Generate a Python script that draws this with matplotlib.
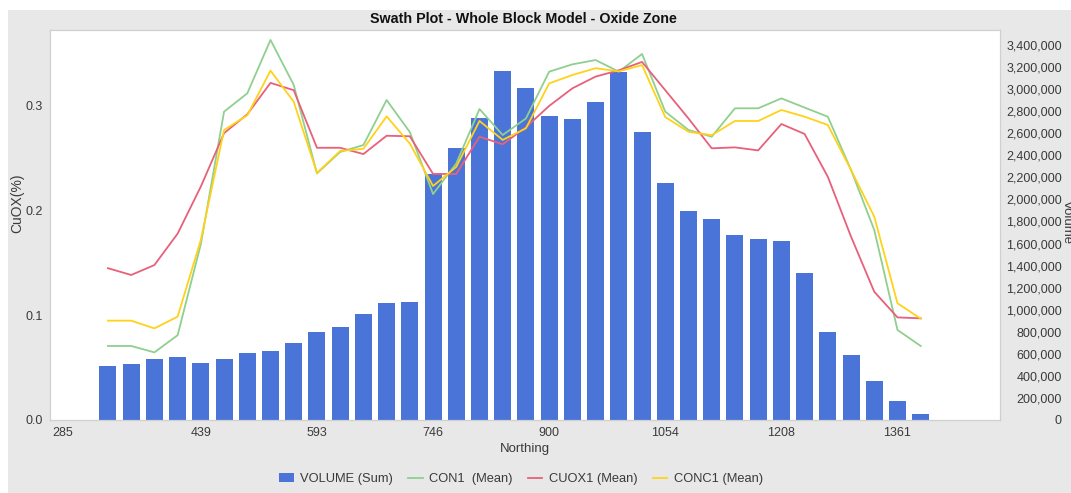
import matplotlib
matplotlib.use("Agg")
import matplotlib.pyplot as plt
import matplotlib.transforms as mtransforms
from matplotlib.patches import Rectangle
from matplotlib.ticker import FuncFormatter

# ---------------- data ----------------
northing = [315.75, 346.5, 377.25, 408.0, 438.75, 469.5, 500.25, 531.0, 561.75,
            592.5, 623.25, 654.0, 684.75, 715.5, 746.25, 777.0, 807.75, 838.5,
            869.25, 900.0, 930.75, 961.5, 992.25, 1023.0, 1053.75, 1084.5,
            1115.25, 1146.0, 1176.75, 1207.5, 1238.25, 1269.0, 1299.75,
            1330.5, 1361.25, 1392.0]

volume_sum = [490000, 505000, 550000, 574000, 517000, 553000, 607000, 626000,
              695000, 801000, 846000, 958000, 1064000, 1073000, 2230000,
              2463000, 2735000, 3164000, 3007000, 2759000, 2726000, 2880000,
              3152000, 2608000, 2146000, 1898000, 1820000, 1680000, 1644000,
              1626000, 1336000, 801000, 589000, 354000, 175000, 54000]

con1_mean = [0.0707, 0.0707, 0.0646, 0.081, 0.168, 0.2945, 0.312, 0.363, 0.320,
             0.2355, 0.256, 0.2626, 0.3056, 0.275, 0.2158, 0.245, 0.297, 0.2722,
             0.288, 0.3327, 0.3397, 0.3438, 0.3327, 0.3496, 0.2945, 0.277,
             0.2706, 0.2977, 0.2977, 0.3072, 0.2984, 0.2897, 0.2388, 0.1815,
             0.086, 0.0707]

cuox1_mean = [0.145, 0.1385, 0.148, 0.178, 0.223, 0.274, 0.292, 0.322, 0.315,
              0.260, 0.260, 0.254, 0.2715, 0.271, 0.235, 0.235, 0.2706, 0.2633,
              0.2796, 0.300, 0.3168, 0.328, 0.334, 0.342, 0.315, 0.288, 0.2595,
              0.2604, 0.2575, 0.2827, 0.2732, 0.2323, 0.1751, 0.1225, 0.098,
              0.0971]

conc1_mean = [0.0949, 0.0949, 0.0875, 0.0987, 0.172, 0.277, 0.291, 0.3337, 0.304,
              0.236, 0.257, 0.259, 0.290, 0.264, 0.2235, 0.2418, 0.2856, 0.2675,
              0.2786, 0.3215, 0.3295, 0.336, 0.333, 0.339, 0.2893, 0.2753, 0.272,
              0.2856, 0.2856, 0.2961, 0.2897, 0.2818, 0.2388, 0.1942, 0.1115,
              0.0968]

x_tick_values = [285, 438.75, 592.5, 746.25, 900, 1053.75, 1207.5, 1361.25]
x_tick_labels = ["285", "439", "593", "746", "900", "1054", "1208", "1361"]
left_ticks = [0.0, 0.1, 0.2, 0.3]
right_ticks = [0, 200000, 400000, 600000, 800000, 1000000, 1200000, 1400000,
               1600000, 1800000, 2000000, 2200000, 2400000, 2600000, 2800000,
               3000000, 3200000, 3400000]

title = "Swath Plot - Whole Block Model - Oxide Zone"
legend_labels = ["VOLUME (Sum)", "CON1  (Mean)", "CUOX1 (Mean)", "CONC1 (Mean)"]

# ---------------- style ----------------
plt.rcParams['font.family'] = ['Liberation Sans', 'DejaVu Sans']
BG = "#e8e8e8"
BLUE = "#4a74d8"
GREEN = "#8fcf8f"
RED = "#e8607a"
YELLOW = "#ffd21a"
TXT = "#3a3a3a"

fig = plt.figure(figsize=(10.71, 4.93), dpi=100)
fig.patch.set_facecolor("white")
fig.patches.append(Rectangle((8 / 1071, 0), 1, 1 - 10 / 493, transform=fig.transFigure,
                             facecolor=BG, edgecolor="none", zorder=-10))

ax2 = fig.add_axes([50 / 1071, 1 - 420 / 493, 950 / 1071, 390 / 493])
ax = ax2.twinx()
ax.yaxis.tick_left()
ax.yaxis.set_label_position("left")
ax2.yaxis.tick_right()
ax2.yaxis.set_label_position("right")

ax2.set_facecolor("white")
ax.set_zorder(ax2.get_zorder() + 1)
ax.patch.set_visible(False)

bars = ax2.bar(northing, volume_sum, width=22.5, color=BLUE, linewidth=0,
               label=legend_labels[0])
l1, = ax.plot(northing, con1_mean, color=GREEN, lw=1.3, label=legend_labels[1])
l2, = ax.plot(northing, cuox1_mean, color=RED, lw=1.3, label=legend_labels[2])
l3, = ax.plot(northing, conc1_mean, color=YELLOW, lw=1.3, label=legend_labels[3])

ax.set_xlim(239, 1497)
ax2.set_xlim(239, 1497)
ax.set_ylim(0, 0.3725)
ax2.set_ylim(0, 3536000)

ax.set_yticks(left_ticks)
ax.yaxis.set_major_formatter(FuncFormatter(lambda v, p: f"{v:.1f}"))
ax2.set_yticks(right_ticks)
ax2.yaxis.set_major_formatter(FuncFormatter(lambda v, p: f"{int(v):,}"))
ax2.set_xticks(x_tick_values)
ax2.set_xticklabels(x_tick_labels)
ax.tick_params(axis='x', bottom=False, labelbottom=False)

for a in (ax, ax2):
    for s in a.spines.values():
        s.set_color("#d0d0d0")
        s.set_linewidth(0.8)

ax.tick_params(axis='y', length=0, pad=5, labelsize=9, labelcolor=TXT)
ax2.tick_params(axis='y', length=0, pad=44.5, labelsize=9, labelcolor=TXT)
for lbl in ax2.get_yticklabels():
    lbl.set_horizontalalignment('right')
ax2.tick_params(axis='x', length=0, pad=5, labelsize=9, labelcolor=TXT)

# shift first x label to the plot's left edge as in the reference
first = ax2.get_xticklabels()[0]
first.set_transform(first.get_transform() +
                    mtransforms.ScaledTranslation(-22 / 100, 0, fig.dpi_scale_trans))

ax2.set_xlabel("Northing", fontsize=9.5, color=TXT, labelpad=3)
fig.text(17 / 1071, 1 - 203 / 493, "CuOX(%)", rotation=90, ha="center",
         va="center", fontsize=10, color=TXT)
fig.text(1067 / 1071, 1 - 222 / 493, "Volume", rotation=270, ha="center",
         va="center", fontsize=9.5, color=TXT)

fig.text(523 / 1071, 1 - 19 / 493, title, ha="center", va="center",
         fontsize=10.3, fontweight="bold", color="#111111",
         family=['Liberation Sans Narrow', 'Liberation Sans', 'DejaVu Sans'])

leg = fig.legend(handles=[bars, l1, l2, l3], labels=legend_labels,
                 loc="center", bbox_to_anchor=(521 / 1071, 1 - 479 / 493),
                 ncol=4, frameon=False, fontsize=9.3, handlelength=1.1,
                 handletextpad=0.5, columnspacing=1.2)
for t in leg.get_texts():
    t.set_color(TXT)

fig.savefig("out.png", dpi=100, facecolor=fig.get_facecolor())
